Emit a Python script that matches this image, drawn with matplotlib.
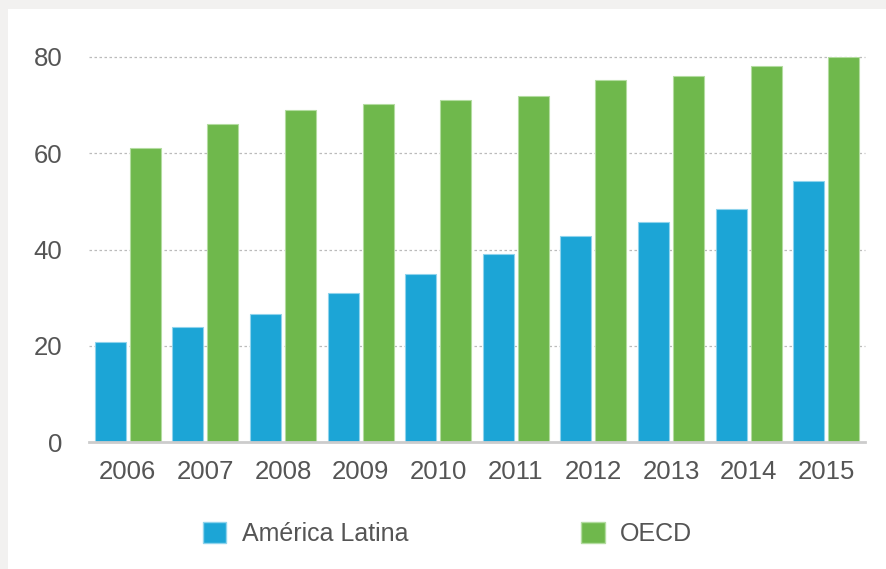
import numpy as np
import matplotlib.pyplot as plt
from matplotlib.patches import Rectangle, Patch

plt.rcParams['font.family'] = ['Liberation Sans', 'DejaVu Sans']

years = ['2006', '2007', '2008', '2009', '2010', '2011', '2012', '2013', '2014', '2015']
america_latina = [20.8, 23.8, 26.7, 30.9, 35.0, 39.1, 42.9, 45.7, 48.5, 54.3]
oecd = [61.1, 66.1, 69.0, 70.3, 71.1, 72.0, 75.2, 76.1, 78.2, 79.9]

blue = '#1ca5d6'
green = '#6fb84c'
text_color = '#555555'

fig = plt.figure(figsize=(8.87, 5.69), dpi=100, facecolor='#f2f1f0')
# white panel with a thin gray frame on the top and left
fig.patches.append(Rectangle((8 / 887, 0), 1, 1 - 9 / 569, transform=fig.transFigure,
                             facecolor='white', edgecolor='none', zorder=-10))

ax = fig.add_axes([89 / 887, 1 - 442 / 569, 776 / 887, 385 / 569])
ax.set_facecolor('none')

x = np.arange(len(years))
w = 0.40
ax.bar(x - 0.225, america_latina, w, color=blue, edgecolor='#8fd3ec', linewidth=0.8, zorder=3)
ax.bar(x + 0.225, oecd, w, color=green, edgecolor='#b3dca0', linewidth=0.8, zorder=3)

ax.set_xlim(-0.5, len(years) - 0.5)
ax.set_ylim(0, 80)
ax.set_yticks([0, 20, 40, 60, 80])
ax.set_xticks(x)
ax.set_xticklabels(years)
ax.tick_params(axis='both', length=0, labelsize=18.5, colors=text_color)
ax.tick_params(axis='y', pad=19)
ax.tick_params(axis='x', pad=13)

for y in [20, 40, 60, 80]:
    ax.axhline(y, color='#bbbbbb', linestyle=(0, (2, 2)), linewidth=0.9, zorder=1, clip_on=False)
ax.axhline(0, color='#cccccc', linewidth=2, zorder=4, clip_on=False)

for s in ax.spines.values():
    s.set_visible(False)

handles = [Patch(facecolor=blue, edgecolor='#8fd3ec', label='América Latina'),
           Patch(facecolor=green, edgecolor='#b3dca0', label='OECD')]
fig.legend(handles=handles, loc='center left', bbox_to_anchor=(203 / 887, 1 - 534 / 569),
           ncol=2, frameon=False, fontsize=18, labelcolor=text_color, borderpad=0,
           borderaxespad=0, handlelength=0.94, handleheight=0.94, handletextpad=0.62,
           columnspacing=6.9)

plt.savefig('out.png', dpi=100, facecolor=fig.get_facecolor())
